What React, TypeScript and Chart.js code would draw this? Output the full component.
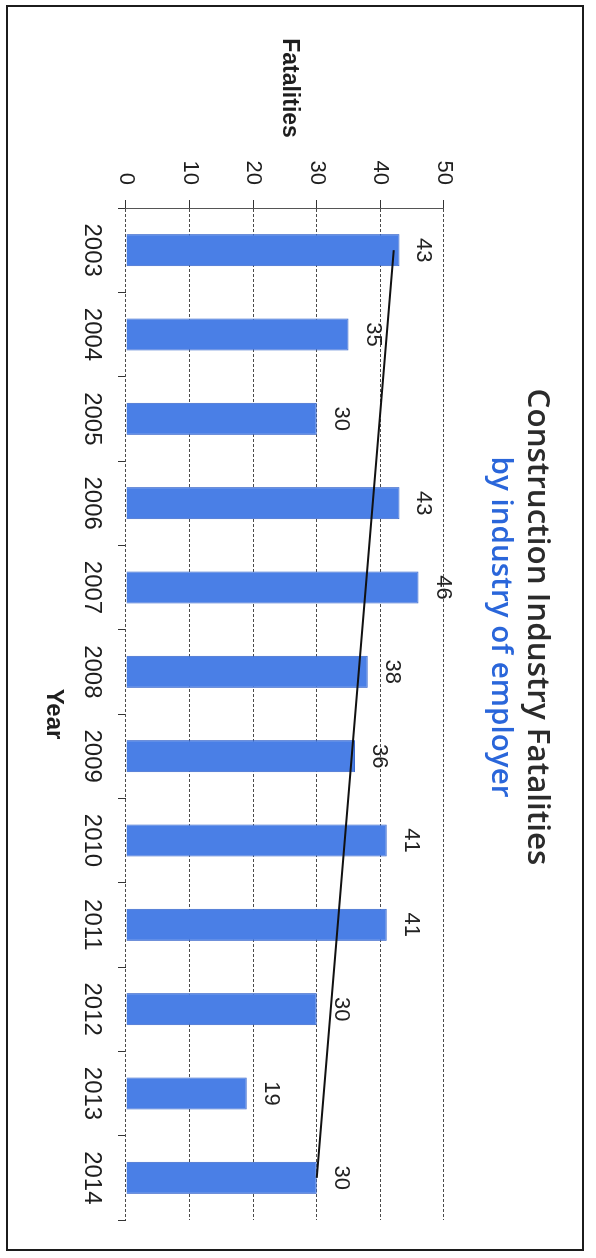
import React, { useEffect, useRef } from "react";
import { Chart, registerables } from "chart.js";

Chart.register(...registerables);

// ---- data ----
const years = ["2003", "2004", "2005", "2006", "2007", "2008", "2009", "2010", "2011", "2012", "2013", "2014"];
const fatalities = [43, 35, 30, 43, 46, 38, 36, 41, 41, 30, 19, 30];
// hand/trend line: from ~42 at 2003 down to ~30 at 2014
const trendLine = [42.1, null, null, null, null, null, null, null, null, null, null, 30.0];
const valueTicks = [0, 10, 20, 30, 40, 50];

const chartTitle = "Construction Industry Fatalities";
const chartSubtitle = "by industry of employer";
const valueAxisTitle = "Fatalities";
const categoryAxisTitle = "Year";

// ---- layout (unrotated chart is CW x CH, then rotated 90deg clockwise) ----
const CW = 1258;
const CH = 596;
const SANS = "'Liberation Sans', Arial, sans-serif";
const TITLE_FONT = "'Open Sans', 'Liberation Sans', sans-serif";

function fitFont(ctx: CanvasRenderingContext2D, text: string, weight: string, family: string, target: number) {
  ctx.font = `${weight} 100px ${family}`;
  const w = ctx.measureText(text).width || 1;
  return (100 * target) / w;
}

export default function App() {
  const canvasRef = useRef<HTMLCanvasElement | null>(null);

  useEffect(() => {
    const canvas = canvasRef.current;
    if (!canvas) return;
    document.body.style.margin = "0";

    const extras = {
      id: "extras",
      afterDatasetsDraw(chart: any) {
        const { ctx, chartArea } = chart;
        const meta = chart.getDatasetMeta(1);
        ctx.save();
        ctx.font = `22px ${SANS}`;
        ctx.fillStyle = "#222";
        ctx.textAlign = "center";
        ctx.textBaseline = "alphabetic";
        meta.data.forEach((bar: any, i: number) => {
          ctx.fillText(String(fatalities[i]), bar.x, bar.y - 18);
        });
        // horizontal value-axis title
        ctx.font = `bold 23px ${SANS}`;
        ctx.fillStyle = "#1e1e1e";
        ctx.fillText(valueAxisTitle, chartArea.left - 120, 313);
        ctx.restore();
      },
      afterDraw(chart: any) {
        const { ctx } = chart;
        ctx.save();
        ctx.textAlign = "center";
        ctx.textBaseline = "alphabetic";
        const ts = fitFont(ctx, chartTitle, "600", TITLE_FONT, 477);
        ctx.font = `600 ${ts}px ${TITLE_FONT}`;
        ctx.fillStyle = "#2b2b2b";
        ctx.fillText(chartTitle, 627, 68);
        const ss = fitFont(ctx, chartSubtitle, "600", TITLE_FONT, 341);
        ctx.font = `600 ${ss}px ${TITLE_FONT}`;
        ctx.fillStyle = "#2a66da";
        ctx.fillText(chartSubtitle, 627, 104);
        ctx.restore();
      },
    };

    const chart = new Chart(canvas, {
      type: "bar",
      data: {
        labels: years,
        datasets: [
          {
            type: "line",
            label: "Trend",
            data: trendLine as any,
            borderColor: "#111",
            borderWidth: 2,
            pointRadius: 0,
            spanGaps: true,
            fill: false,
            tension: 0,
            order: 0,
          } as any,
          {
            type: "bar",
            label: "Fatalities",
            data: fatalities,
            backgroundColor: "#4a7fe6",
            borderColor: "#3a68cc",
            borderWidth: 1,
            categoryPercentage: 1,
            barPercentage: 0.38,
            order: 1,
          } as any,
        ],
      },
      options: {
        animation: false,
        responsive: false,
        maintainAspectRatio: false,
        layout: { padding: { top: 152, left: 148, right: 38, bottom: 39.4 } },
        plugins: {
          legend: { display: false },
          tooltip: { enabled: false },
          title: { display: false },
        },
        scales: {
          x: {
            type: "category",
            afterFit: (axis: any) => {
              axis.height = 86.6;
            },
            grid: {
              display: true,
              drawOnChartArea: false,
              drawTicks: true,
              tickLength: 8,
              color: "#333",
              lineWidth: 1,
              offset: true,
            },
            border: { display: false },
            ticks: {
              color: "#1e1e1e",
              font: { family: SANS, size: 24 },
              padding: 12,
              maxRotation: 0,
              minRotation: 0,
              autoSkip: false,
            },
            title: {
              display: true,
              text: categoryAxisTitle,
              color: "#1e1e1e",
              font: { family: SANS, size: 24, weight: "bold" },
              padding: { top: 9, bottom: 0 },
            },
          },
          y: {
            type: "linear",
            min: 0,
            max: 50,
            afterBuildTicks: (axis: any) => {
              axis.ticks = valueTicks.map((v) => ({ value: v }));
            },
            afterFit: (axis: any) => {
              axis.width = 60;
            },
            grid: {
              color: "#4a4a4a",
              lineWidth: 1,
              tickLength: 8,
              drawTicks: true,
              tickColor: "#333",
              tickBorderDash: [],
            },
            border: { display: true, color: "#555", width: 1, dash: [3, 2] },
            ticks: {
              color: "#1e1e1e",
              font: { family: SANS, size: 22 },
              padding: 15,
            },
          },
        },
      } as any,
      plugins: [extras],
    });

    return () => chart.destroy();
  }, []);

  return (
    <>
      <div
        style={{
          position: "fixed",
          left: 0,
          top: 0,
          width: CW,
          height: CH,
          transformOrigin: "0 0",
          transform: `translate(${CH}px, 0px) rotate(90deg)`,
          background: "#fff",
        }}
      >
        <canvas ref={canvasRef} width={CW} height={CH} style={{ display: "block", width: CW, height: CH }} />
      </div>
      <div
        style={{
          position: "fixed",
          left: 6,
          top: 5,
          width: 578,
          height: 1246,
          border: "2px solid #1c1c1c",
          boxSizing: "border-box",
          pointerEvents: "none",
        }}
      />
    </>
  );
}
